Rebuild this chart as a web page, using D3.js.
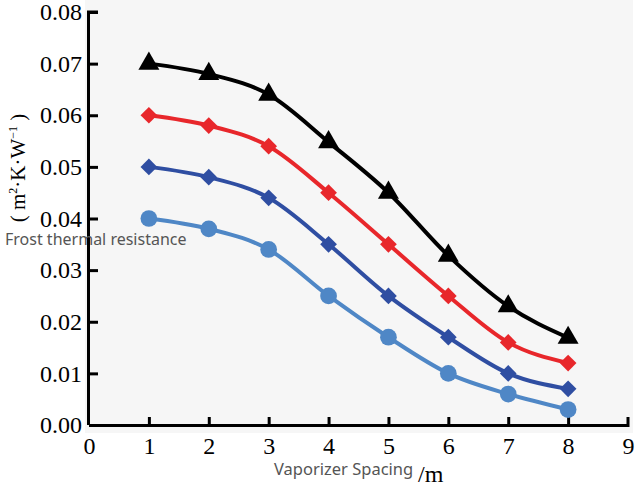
<!DOCTYPE html>
<html><head><meta charset="utf-8">
<script src="https://cdn.jsdelivr.net/npm/d3@7"></script>
<style>body{margin:0;background:#fff;}svg{display:block;}</style>
</head><body>
<svg id="c" width="639" height="486"></svg>
<script>
const spacing = [1,2,3,4,5,6,7,8];
const seriesBlack = [0.070,0.068,0.064,0.0548,0.045,0.0328,0.023,0.0169];
const seriesRed = [0.060,0.058,0.054,0.045,0.035,0.025,0.016,0.012];
const seriesDarkBlue = [0.050,0.048,0.044,0.035,0.025,0.017,0.010,0.007];
const seriesLightBlue = [0.040,0.038,0.034,0.025,0.017,0.010,0.006,0.003];
const xTicks = [0,1,2,3,4,5,6,7,8,9];
const yTicks = [0,0.01,0.02,0.03,0.04,0.05,0.06,0.07,0.08];

const svg = d3.select("#c");
const x = d3.scaleLinear().domain([0,9]).range([89,628]);
const y = d3.scaleLinear().domain([0,0.08]).range([425,12]);

svg.append("rect").attr("x",85).attr("y",0).attr("width",548).attr("height",433).attr("fill","#f6f6f6");

const serif = "'Liberation Serif','Times New Roman',serif";

// axes
const xAxis = svg.append("g").attr("transform","translate(0,425)")
  .call(d3.axisBottom(x).tickValues(xTicks).tickSize(-8).tickPadding(12).tickFormat(d3.format("d")));
const yAxis = svg.append("g").attr("transform","translate(89,0)")
  .call(d3.axisLeft(y).tickValues(yTicks).tickSize(-9).tickPadding(7).tickFormat(d3.format(".2f")));
[xAxis,yAxis].forEach(g=>{
  g.select(".domain").attr("stroke","#000").attr("stroke-width",3);
  g.selectAll(".tick line").attr("stroke","#000").attr("stroke-width",3);
  g.selectAll("text").attr("fill","#000").style("font-family",serif).style("font-size","24px");
});
yAxis.select(".domain").attr("d","M-0.5,425V12H9");
xAxis.select(".domain").attr("d","M89,0.5H628V-8");
xAxis.selectAll(".tick").filter(d=>d===0).select("line").remove();
xAxis.selectAll(".tick").filter(d=>d===9).select("line").remove();
xAxis.selectAll("text").attr("dy","0.71em");

const line = d3.line().x((d,i)=>x(spacing[i])).y(d=>y(d)).curve(d3.curveMonotoneX);

const series = [
  {v:seriesLightBlue,c:"#4f87c6",m:"circle"},
  {v:seriesDarkBlue,c:"#2f4ea2",m:"diamond"},
  {v:seriesRed,c:"#e8272b",m:"diamond"},
  {v:seriesBlack,c:"#000000",m:"triangle"}
];
const sym = {circle:d3.symbol().type(d3.symbolCircle).size(220),
  diamond:d3.symbol().type(d3.symbolSquare).size(140),
  triangle:d3.symbol().type(d3.symbolTriangle).size(190)};
series.forEach(s=>{
  svg.append("path").attr("d",line(s.v)).attr("fill","none").attr("stroke",s.c).attr("stroke-width",4);
  svg.append("g").selectAll("path").data(s.v).join("path")
    .attr("d",sym[s.m])
    .attr("transform",(d,i)=>`translate(${x(spacing[i])},${y(d)})${s.m==="diamond"?" rotate(45)":""}`)
    .attr("fill",s.c);
});

// labels
svg.append("text").attr("x",5).attr("y",245).text("Frost thermal resistance")
  .style("font-family","'Noto Sans','Open Sans',sans-serif").style("font-size","16px").attr("fill","#555");
svg.append("text").attr("x",274).attr("y",475).text("Vaporizer Spacing")
  .style("font-family","'Noto Sans','Open Sans',sans-serif").style("font-size","16.5px").attr("fill","#555");
svg.append("text").attr("x",418).attr("y",482).text("/m")
  .style("font-family",serif).style("font-size","24px").attr("fill","#000");
const rl = svg.append("text").attr("transform","translate(25,168) rotate(-90)").attr("text-anchor","middle")
  .style("font-family",serif).style("font-size","21px").attr("fill","#000");
rl.append("tspan").text("( m");
rl.append("tspan").text("2").attr("dy","-8").style("font-size","12px");
rl.append("tspan").text("·K·W").attr("dy","8");
rl.append("tspan").text("−1").attr("dy","-8").style("font-size","12px");
rl.append("tspan").text(" )").attr("dy","8");
</script>
</body></html>
